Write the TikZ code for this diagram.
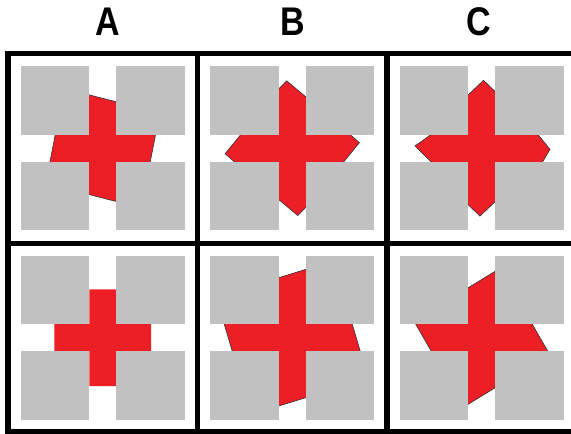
\documentclass[tikz,border=0pt]{standalone}
\usepackage{fontspec}
\setmainfont{Liberation Sans}
\definecolor{sqgray}{RGB}{192,193,192}
\definecolor{myred}{RGB}{236,31,39}
\newcommand{\graysq}{%
  \fill[sqgray] (-82,-82) rectangle (-13.5,-13.5);
  \fill[sqgray] (13.5,-82) rectangle (82,-13.5);
  \fill[sqgray] (-82,13.5) rectangle (-13.5,82);
  \fill[sqgray] (13.5,13.5) rectangle (82,82);}
\tikzset{
  redcross/.style={fill=myred, draw=black!80, line width=0.6pt, line join=miter},
  plaincross/.style={fill=myred},
  gridline/.style={line width=5.5pt, line cap=rect},
  header/.style={font=\bfseries\fontsize{40}{40}\selectfont, inner sep=0pt}
}
\begin{document}
\begin{tikzpicture}[x=1pt,y=-1pt]
\useasboundingbox (0,0) rectangle (571,434);
\fill[white] (0,0) rectangle (571,434);

% headers
\node[header] (hA) at (107.5,21.7) {\scalebox{0.85}[1]{A}};
\node[header] (hB) at (292.5,21.7) {\scalebox{0.85}[1]{B}};
\node[header] (hC) at (479,21.7) {\scalebox{0.85}[1]{C}};

% A top
\begin{scope}[shift={(102.75,148.2)}]
  \draw[redcross] (-16,-53.94) -- (16,-45.76) -- (16,-16) -- (53.29,-16) -- (47.01,16) -- (16,16) -- (16,53.94) -- (-16,45.76) -- (-16,16) -- (-53.29,16) -- (-47.01,-16) -- (-16,-16) -- cycle;
  \graysq
\end{scope}
% B top
\begin{scope}[shift={(292.25,148.2)}]
  \draw[redcross] (-16,-56.8) -- (-5.5,-67.3) -- (16,-49.3) -- (16,-16) -- (55.2,-16) -- (67.15,-5.5) -- (49.54,16) -- (16,16) -- (16,56.8) -- (5.5,67.3) -- (-16,49.3) -- (-16,16) -- (-55.2,16) -- (-67.15,5.5) -- (-49.54,-16) -- (-16,-16) -- cycle;
  \graysq
\end{scope}
% C top
\begin{scope}[shift={(481.75,148.2)}]
  \draw[redcross] (-16,-51.03) -- (1.8,-67.9) -- (16,-54.18) -- (16,-16) -- (54.3,-16) -- (68.25,1.1) -- (59.56,16) -- (16,16) -- (16,51.03) -- (-1.8,67.9) -- (-16,54.18) -- (-16,16) -- (-48.2,16) -- (-66.75,-2.2) -- (-47.5,-16) -- (-16,-16) -- cycle;
  \graysq
\end{scope}
% A bottom
\begin{scope}[shift={(102.75,337.7)}]
  \fill[plaincross] (-13.5,-48.4) -- (13.5,-48.4) -- (13.5,-13.5) -- (48.4,-13.5) -- (48.4,13.5) -- (13.5,13.5) -- (13.5,48.4) -- (-13.5,48.4) -- (-13.5,13.5) -- (-48.4,13.5) -- (-48.4,-13.5) -- (-13.5,-13.5) -- cycle;
  \graysq
\end{scope}
% B bottom
\begin{scope}[shift={(292.25,337.7)}]
  \draw[redcross] (-16,-59.23) -- (16,-69.07) -- (16,-16) -- (59.26,-16) -- (68.74,16) -- (16,16) -- (16,59.23) -- (-16,69.07) -- (-16,16) -- (-59.26,16) -- (-68.74,-16) -- (-16,-16) -- cycle;
  \graysq
\end{scope}
% C bottom
\begin{scope}[shift={(481.75,337.7)}]
  \draw[redcross] (-16,-48.47) -- (16,-68.03) -- (16,-16) -- (49.06,-16) -- (67.44,16) -- (16,16) -- (16,48.47) -- (-16,68.03) -- (-16,16) -- (-49.06,16) -- (-67.44,-16) -- (-16,-16) -- cycle;
  \graysq
\end{scope}

% grid
\draw[gridline] (8,53.3) -- (8,431.5);
\draw[gridline] (197.5,53.3) -- (197.5,431.5);
\draw[gridline] (387,53.3) -- (387,431.5);
\draw[gridline] (8,53.3) -- (580,53.3);
\draw[gridline] (8,243.5) -- (580,243.5);
\draw[gridline] (8,431.5) -- (580,431.5);
\end{tikzpicture}
\end{document}
